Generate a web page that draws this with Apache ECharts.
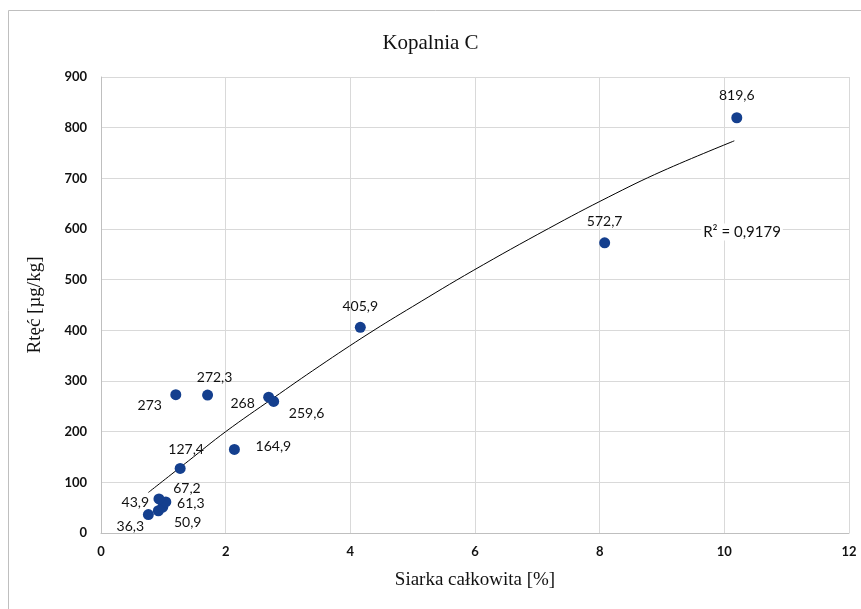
<!DOCTYPE html>
<html><head><meta charset="utf-8">
<script src="https://cdn.jsdelivr.net/npm/echarts@6/dist/echarts.min.js"></script>
<style>html,body{margin:0;padding:0;background:#fff}#c{width:861px;height:609px}</style>
</head><body><div id="c"></div>
<script>
// data
const sulfur = [0.76, 0.92, 0.99, 1.04, 0.93, 1.27, 1.20, 1.71, 2.14, 2.69, 2.77, 4.16, 8.08, 10.20];
const mercury = [36.3, 43.9, 50.9, 61.3, 67.2, 127.4, 273, 272.3, 164.9, 268, 259.6, 405.9, 572.7, 819.6];
const pointLabels = ['36,3','43,9','50,9','61,3','67,2','127,4','273','272,3','164,9','268','259,6','405,9','572,7','819,6'];
const trendX = [0.76, 1.4, 2.0, 2.76, 3.5, 4.3, 5.0, 5.97, 7.18, 8.14, 9.0, 10.16];
const trendY = [80, 142, 200, 266, 329, 394, 447, 518, 601, 663, 714, 774];
const xTicks = [0, 2, 4, 6, 8, 10, 12];
const yTicks = [0, 100, 200, 300, 400, 500, 600, 700, 800, 900];
const titleText = 'Kopalnia C';
const xName = 'Siarka całkowita [%]';
const yName = 'Rtęć [µg/kg]';
const r2Text = 'R² = 0,9179';

// label layout (styles, separate from data)
const labelOffsets = [[-18,12],[-23,-8],[25,15],[25,2],[28,-10],[6,-19],[-26,11],[7,-18],[39,-3],[-26,6],[33,12],[0,-21],[0,-21],[0,-22]];

const chart = echarts.init(document.getElementById('c'), null, {renderer:'canvas'});
const pts = sulfur.map((x,i)=>({
  value:[x, mercury[i]],
  label:{show:true, formatter:pointLabels[i], position:'inside', offset:labelOffsets[i]}
}));
chart.setOption({
  animation:false,
  backgroundColor:'#fff',
  title:{text:titleText, left:'center', top:28, textStyle:{fontFamily:'Liberation Serif', fontSize:21, fontWeight:'normal', color:'#111'}},
  grid:{left:101, right:12, top:77, bottom:76},
  xAxis:{type:'value', min:0, max:12, interval:2,
    name:xName, nameLocation:'middle', nameGap:38,
    nameTextStyle:{fontFamily:'Liberation Serif', fontSize:19, color:'#111'},
    axisLine:{show:true, lineStyle:{color:'#bfbfbf'}}, axisTick:{show:false},
    axisLabel:{fontFamily:'Lato', fontWeight:'bold', fontSize:13, color:'#111', margin:12,
      formatter:v=>xTicks.includes(v)?String(v):''},
    splitLine:{show:true, lineStyle:{color:'#d9d9d9'}}},
  yAxis:{type:'value', min:0, max:900, interval:100,
    name:yName, nameLocation:'middle', nameGap:56, nameRotate:90,
    nameTextStyle:{fontFamily:'Liberation Serif', fontSize:19, color:'#111'},
    axisLine:{show:true, lineStyle:{color:'#bfbfbf'}}, axisTick:{show:false},
    axisLabel:{fontFamily:'Lato', fontWeight:'bold', fontSize:13, color:'#111', margin:14,
      formatter:v=>yTicks.includes(v)?String(v):''},
    splitLine:{show:true, lineStyle:{color:'#d9d9d9'}}},
  series:[
    {type:'line', data:trendX.map((x,i)=>[x,trendY[i]]), smooth:0.4, showSymbol:false, symbol:'none',
      lineStyle:{color:'#000', width:1}, z:2, silent:true},
    {type:'scatter', data:pts, symbolSize:11, itemStyle:{color:'#143f8e', opacity:1},
      label:{fontFamily:'Lato', fontSize:14, color:'#111'}, z:3}
  ],
  graphic:[
    {type:'rect', shape:{x:8.5, y:10.5, width:900, height:700}, style:{fill:'none', stroke:'#bfbfbf', lineWidth:1}, silent:true},
    {type:'text', x:742, y:232, z:10, style:{text:r2Text, fontFamily:'Lato', fontSize:15, fill:'#111', align:'center', verticalAlign:'middle', backgroundColor:'#fff', padding:[1,2]}}
  ]
});
</script></body></html>
